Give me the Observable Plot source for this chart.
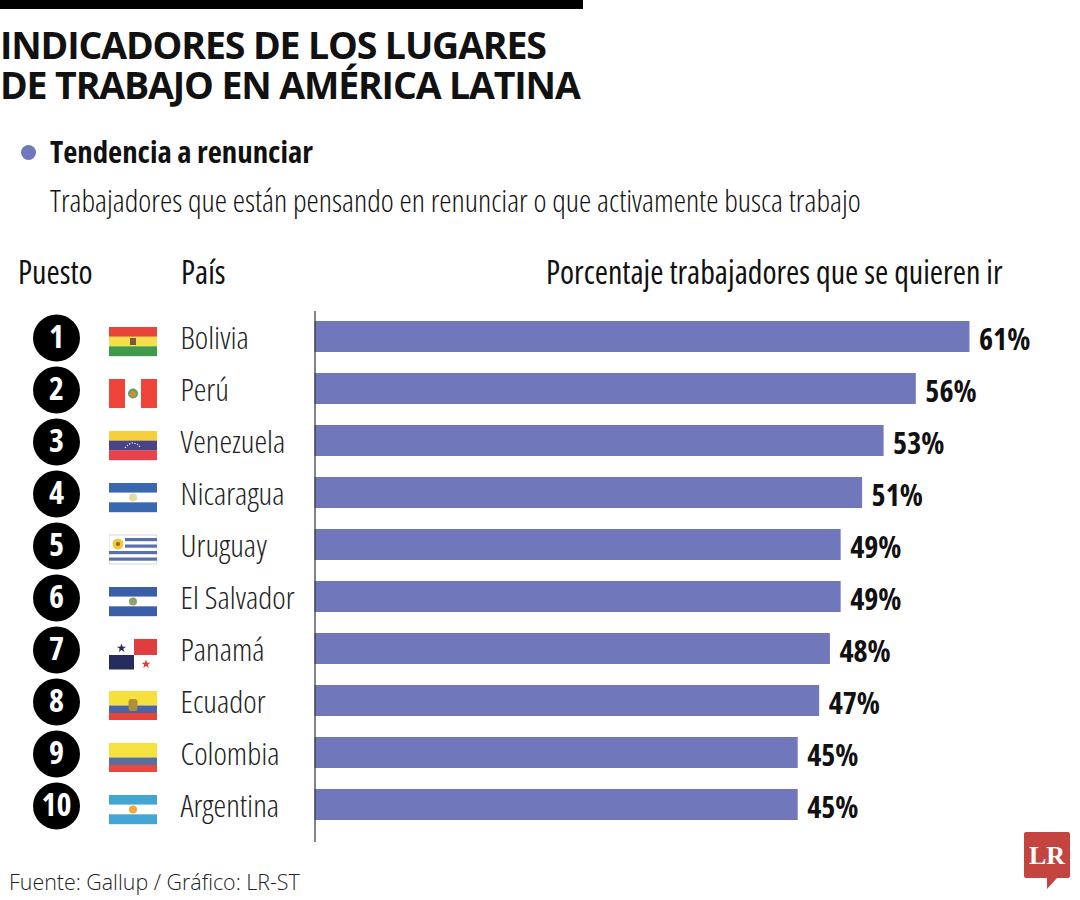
<!DOCTYPE html>
<html lang="es">
<head>
<meta charset="utf-8">
<script src="https://cdn.jsdelivr.net/npm/d3@7"></script>
<script src="https://cdn.jsdelivr.net/npm/@observablehq/plot@0.6"></script>
<style>
html,body{margin:0;padding:0;background:#fff;color:#111;}
#page{position:relative;width:1080px;height:900px;overflow:hidden;}
#page>*{position:absolute;white-space:nowrap;}
.narrow{font-family:"Open Sans",sans-serif;font-stretch:75%;transform-origin:0 50%;}
#bar{left:0;top:0;width:583px;height:9px;background:#000;}
h1{margin:0;left:0;top:25px;font:660 37.5px/40px "Open Sans",sans-serif;letter-spacing:-1.14px;color:#111;}
#dot{left:21px;top:145px;width:15px;height:15px;border-radius:50%;background:#7078bb;}
h2{margin:0;left:50px;top:133px;font-weight:700;font-size:30.8px;line-height:36px;}
#sub{left:50px;top:183px;font-size:31px;line-height:34px;font-weight:300;}
.head{top:255px;font-size:32px;line-height:34px;font-weight:400;}
#source{left:9px;top:869px;font:300 21.4px/26px "Open Sans",sans-serif;color:#222;}
#logo{left:1024px;top:832px;}
#chart{left:0;top:311px;}
</style>
</head>
<body>
<div id="page">
  <div id="bar"></div>
  <h1>INDICADORES DE LOS LUGARES<br>DE TRABAJO EN AMÉRICA LATINA</h1>
  <div id="dot"></div>
  <h2 class="narrow">Tendencia a renunciar</h2>
  <div id="sub" class="narrow">Trabajadores que están pensando en renunciar o que activamente busca trabajo</div>
  <div class="head narrow" style="left:18px">Puesto</div>
  <div class="head narrow" style="left:181px">País</div>
  <div class="head narrow" style="left:546px">Porcentaje trabajadores que se quieren ir</div>
  <div id="chart"></div>
  <div id="source">Fuente: Gallup / Gráfico: LR-ST</div>
  <svg id="logo" width="46" height="58" viewBox="0 0 46 58">
    <path d="M2 0H44a2 2 0 0 1 2 2V44a2 2 0 0 1-2 2H33L23 57V46H2a2 2 0 0 1-2-2V2a2 2 0 0 1 2-2z" fill="#c4453f"/>
    <text x="23" y="32" text-anchor="middle" font-family="Liberation Serif" font-weight="700" font-size="26" fill="#fff">LR</text>
  </svg>
</div>
<script>
const countries = ["Bolivia","Perú","Venezuela","Nicaragua","Uruguay","El Salvador","Panamá","Ecuador","Colombia","Argentina"];
const ranks = [1,2,3,4,5,6,7,8,9,10];
const percents = [61,56,53,51,49,49,48,47,45,45];

const stripes = (colors) => {
  const h = 29 / colors.length;
  return colors.map((c,i) => `<rect y="${i*h}" width="48" height="${h+.2}" fill="${c}"/>`).join("");
};
const seal = (c, r=3.5) => `<circle cx="24" cy="14.5" r="${r}" fill="${c}"/>`;
const flagArt = [
  stripes(["#e8443a","#f4e04d","#3f9a4b"]) + `<rect x="21" y="11" width="6" height="7" fill="#7d5a3a"/>`,
  `<rect width="48" height="29" fill="#f0433a"/><rect x="16" width="16" height="29" fill="#fff"/><circle cx="24" cy="14.5" r="5" fill="#5ea36a"/><circle cx="24" cy="15" r="3" fill="#d98a3a"/>`,
  stripes(["#f6cf3c","#4a4387","#e8434a"]) + `<path d="M16 17Q24 7 32 17" fill="none" stroke="#fff" stroke-width="1.1" stroke-dasharray="1.2 1.6"/>`,
  stripes(["#3a68b0","#fff","#3a68b0"]) + seal("#e6d9a2",4),
  `<rect width="48" height="29" fill="#fff" stroke="#bbb" stroke-width=".6"/>` + [3,9.5,16,22.5].map(y => `<rect x="${y<12?16:0}" y="${y}" width="${y<12?32:48}" height="3.2" fill="#5a6fae"/>`).join("") + `<circle cx="9" cy="9" r="5.5" fill="#f0c93a"/><circle cx="9" cy="9" r="2" fill="#8a6a1f"/>`,
  stripes(["#3a5ea8","#fff","#3a5ea8"]) + seal("#8fa36a",4),
  `<rect width="48" height="32" fill="#fff"/><rect x="25" y="0" width="24" height="16" fill="#e03d3f"/><rect x="0" y="16" width="25" height="16" fill="#262d5c"/><path d="M12.500 4.500l1.200 3.200h3.300l-2.700 2 1 3.200-2.800-1.900-2.800 1.900 1-3.200-2.700-2h3.300z" fill="#262d5c"/><path d="M37 20.500l1.200 3.200h3.300l-2.700 2 1 3.200-2.800-1.900-2.800 1.900 1-3.200-2.700-2h3.300z" fill="#e03d3f"/>`,
  `<rect width="48" height="14.5" fill="#f7e03c"/><rect y="14.500" width="48" height="7.500" fill="#4d63a5"/><rect y="22" width="48" height="7" fill="#e8433a"/><rect x="19.500" y="8" width="9" height="12" rx="3" fill="#b08f3c"/>`,
  `<rect width="48" height="14.500" fill="#f5e23e"/><rect y="14.500" width="48" height="7.500" fill="#5a6d9f"/><rect y="22" width="48" height="7" fill="#e8493c"/>`,
  stripes(["#42a5d2","#fff","#42a5d2"]) + seal("#f0a93a",4)
];
const flagUri = flagArt.map(art => "data:image/svg+xml;utf8," + encodeURIComponent(
  `<svg xmlns="http://www.w3.org/2000/svg" viewBox="0 0 48 32" width="48" height="32"><g transform="translate(0 1.5)">${art}</g></svg>`));

const rows = countries.map((pais,i) => ({pais, puesto: ranks[i], pct: percents[i], flag: flagUri[i]}));
const narrow = '"Open Sans",sans-serif';

const chart = Plot.plot({
  width: 1080,
  height: 531,
  marginTop: 0, marginRight: 0, marginBottom: 0, marginLeft: 0,
  style: {background: "transparent", overflow: "visible", fontStretch: "75%"},
  x: {domain: [0, 61], range: [314.5, 969.5], axis: null},
  y: {domain: countries, range: [9.5, 509.5], paddingInner: 0.4, paddingOuter: 0, axis: null},
  marks: [
    Plot.barX(rows, {x: "pct", y: "pais", fill: "#7078bb"}),
    Plot.ruleX([0], {stroke: "#333", strokeWidth: 1.2}),
    Plot.text(rows, {x: "pct", y: "pais", text: d => d.pct + "%", textAnchor: "start", dx: 9, dy: 3,
      fontFamily: narrow, fontWeight: 700, fontSize: 30, fill: "#111"}),
    Plot.dot(rows, {y: "pais", frameAnchor: "left", dx: 56, dy: 1, r: 23.5, fill: "#000"}),
    Plot.text(rows, {y: "pais", frameAnchor: "left", dx: 56, dy: 1, text: d => String(d.puesto), textAnchor: "middle",
      fontFamily: narrow, fontWeight: 700, fontSize: 32, fill: "#fff"}),
    Plot.image(rows, {y: "pais", frameAnchor: "left", dx: 132.5, dy: 4.5, width: 48, height: 32, src: "flag"}),
    Plot.text(rows, {y: "pais", frameAnchor: "left", dx: 180, dy: 2, text: "pais", textAnchor: "start",
      fontFamily: narrow, fontWeight: 300, fontSize: 32, fill: "#222"})
  ]
});
document.getElementById("chart").append(chart);
</script>
</body>
</html>
